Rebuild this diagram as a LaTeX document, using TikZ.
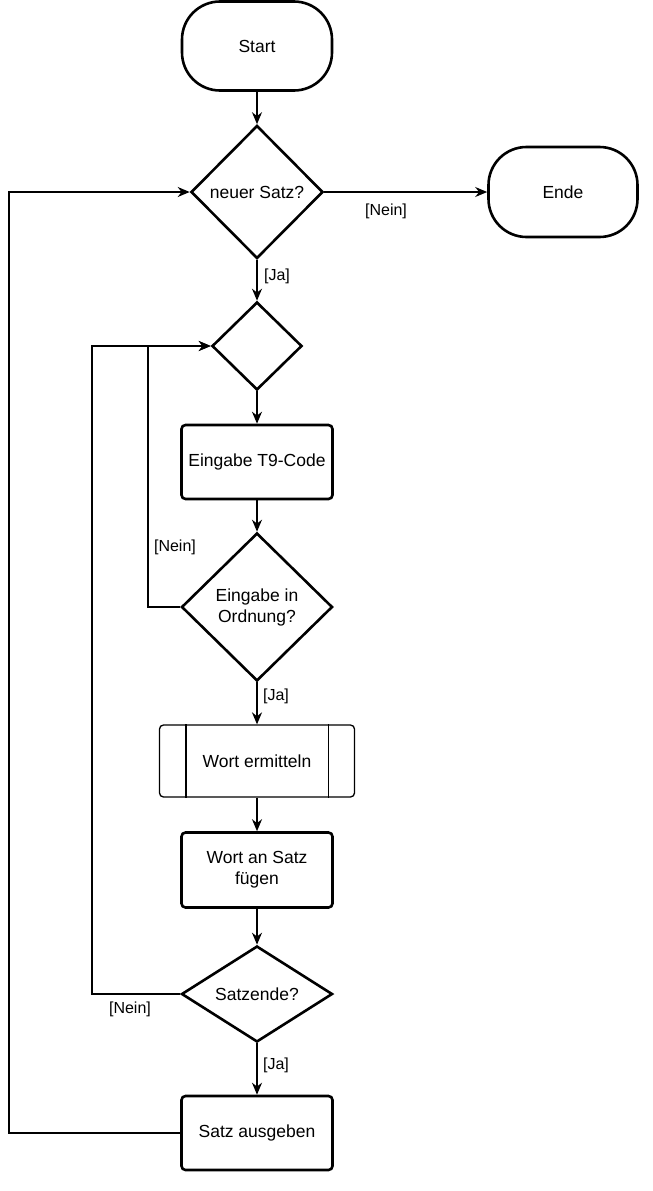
\documentclass[tikz,border=0pt]{standalone}
\usepackage{fontspec}
\setmainfont{Liberation Sans}
\usetikzlibrary{shapes.geometric,arrows.meta}
\begin{document}
\begin{tikzpicture}[x=1pt,y=-1pt,
  base/.style={draw, line width=2.6pt, font=\fontsize{17.5}{21}\selectfont, align=center, inner sep=0pt},
  term/.style={base, rectangle, rounded corners=38pt, minimum width=150pt, minimum height=89pt},
  proc/.style={base, rectangle, rounded corners=4pt, minimum width=151pt, minimum height=74pt},
  pred/.style={base, line width=1.3pt, rectangle, rounded corners=4pt, minimum width=195pt, minimum height=72pt},
  dec/.style={base, diamond},
  conn/.style={line width=1.6pt, -{Stealth[length=12pt,width=10pt]}},
  lab/.style={font=\fontsize{16}{19}\selectfont, inner sep=0pt}
]
\useasboundingbox (0,0) rectangle (653,1191);
\node[term] (start) at (257,46) {Start};
\node[dec, minimum width=132pt, minimum height=133pt] (d1) at (257,192) {neuer Satz?};
\node[term, minimum width=149pt, minimum height=90pt] (ende) at (563,192) {Ende};
\node[dec, minimum width=90pt, minimum height=88pt] (d2) at (257,346) {};
\node[proc] (t9) at (257,462) {Eingabe T9-Code};
\node[dec, minimum width=151pt, minimum height=148pt] (d3) at (257,607) {Eingabe in\\Ordnung?};
\node[pred] (wort) at (257,761) {Wort ermitteln};
\draw[line width=1.3pt] ([xshift=27pt]wort.north west) -- ([xshift=27pt]wort.south west);
\draw[line width=1.3pt] ([xshift=-27pt]wort.north east) -- ([xshift=-27pt]wort.south east);
\node[proc, minimum height=75pt] (fuegen) at (257,870) {Wort an Satz\\fügen};
\node[dec, aspect=1.57, minimum width=151pt, minimum height=96pt] (d4) at (257,994) {Satzende?};
\node[proc] (satz) at (257,1133) {Satz ausgeben};

\draw[conn] (start) -- (d1);
\draw[conn] (d1.east) -- (ende.west);
\draw[conn] (d1) -- (d2);
\draw[conn] (d2) -- (t9);
\draw[conn] (t9) -- (d3);
\draw[conn] (d3) -- (wort);
\draw[conn] (wort) -- (fuegen);
\draw[conn] (fuegen) -- (d4);
\draw[conn] (d4) -- (satz);
\draw[conn] (d3.west) -- ++(-32,0) |- (d2.west);
\draw[conn] (d4.west) -- ++(-88,0) |- (d2.west);
\draw[conn] (satz.west) -- ++(-171,0) |- (d1.west);

\node[lab] (l1) at (386,211) {[Nein]};
\node[lab] (l2) at (277,276) {[Ja]};
\node[lab] (l3) at (175,547) {[Nein]};
\node[lab] (l4) at (276,696) {[Ja]};
\node[lab] (l5) at (130,1009) {[Nein]};
\node[lab] (l6) at (276,1065) {[Ja]};
\end{tikzpicture}
\end{document}
